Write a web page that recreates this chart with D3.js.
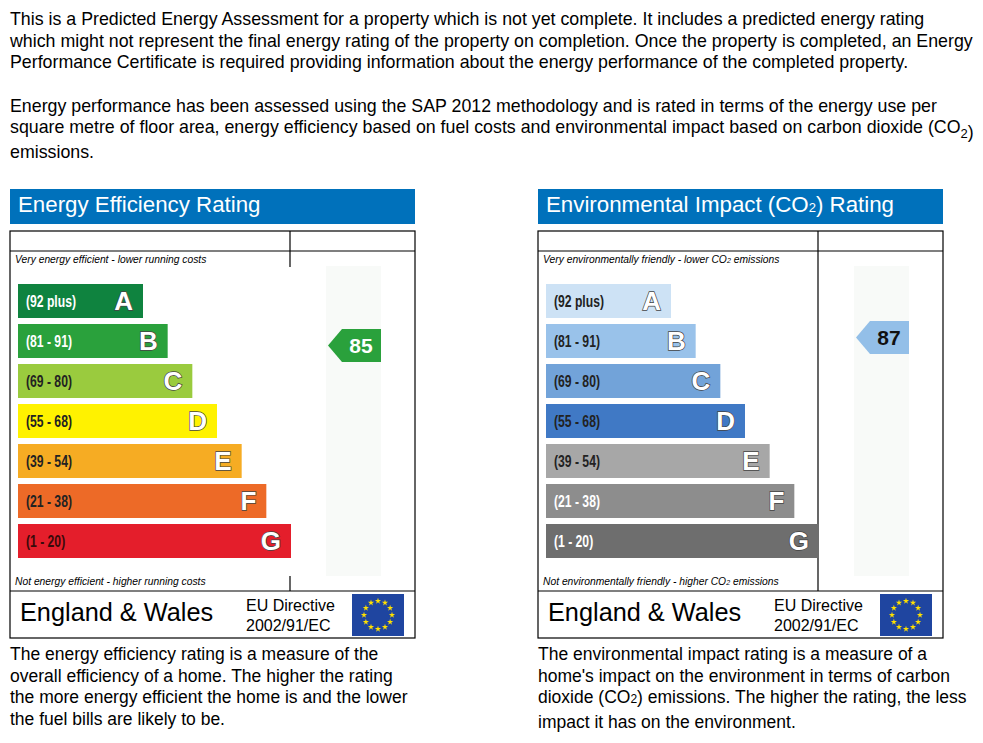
<!DOCTYPE html>
<html>
<head>
<meta charset="utf-8">
<script src="https://cdn.jsdelivr.net/npm/d3@7"></script>
<style>
  body { margin: 0; background: #fff; }
  svg { display: block; font-family: "Liberation Sans", Arial, sans-serif; }
</style>
</head>
<body>
<div id="chart"></div>
<script>
// text blocks
const introLines = [
  'This is a Predicted Energy Assessment for a property which is not yet complete. It includes a predicted energy rating',
  'which might not represent the final energy rating of the property on completion. Once the property is completed, an Energy',
  'Performance Certificate is required providing information about the energy performance of the completed property.',
  'Energy performance has been assessed using the SAP 2012 methodology and is rated in terms of the energy use per',
  'square metre of floor area, energy efficiency based on fuel costs and environmental impact based on carbon dioxide (CO₂)',
  'emissions.'
];
const introBaselines = [25, 47, 68, 112, 133, 158];

const energyNotes = ['The energy efficiency rating is a measure of the',
  'overall efficiency of a home. The higher the rating',
  'the more energy efficient the home is and the lower',
  'the fuel bills are likely to be.'];
const co2Notes = ['The environmental impact rating is a measure of a',
  'home\'s impact on the environment in terms of carbon',
  'dioxide (CO₂) emissions. The higher the rating, the less',
  'impact it has on the environment.'];

// rating bands
const bandLetters = ['A', 'B', 'C', 'D', 'E', 'F', 'G'];
const bandRanges = ['(92 plus)', '(81 - 91)', '(69 - 80)', '(55 - 68)', '(39 - 54)', '(21 - 38)', '(1 - 20)'];
const bandMin = [92, 81, 69, 55, 39, 21, 1];
const bandMax = [100, 91, 80, 68, 54, 38, 20];

const energyColours = ['#0f833f', '#2aa13c', '#9acb3e', '#fff200', '#f6ac23', '#ed6a27', '#e41e2b'];
const energyLabelColours = ['#fff', '#fff', '#222', '#222', '#222', '#222', '#3a0a0a'];
const co2Colours = ['#cde2f5', '#99c2ea', '#72a3d9', '#4079c5', '#a7a7a7', '#8d8d8d', '#6e6e6e'];
const co2LabelColours = ['#222', '#222', '#222', '#222', '#222', '#fff', '#fff'];

const energyRating = 85;
const co2Rating = 87;

const W = 983, H = 743;
const svg = d3.select('#chart').append('svg').attr('width', W).attr('height', H);

// write a string, turning "₂" into a small lowered 2
const richText = (sel, str, subSize, drop) => {
  const parts = str.split('₂');
  parts.forEach((p, i) => {
    sel.append('tspan').text(p);
    if (i < parts.length - 1) {
      sel.append('tspan').attr('font-size', subSize).attr('dy', drop).text('2');
      sel.append('tspan').attr('dy', -drop).text('');
    }
  });
};

svg.append('g').selectAll('text').data(introLines).join('text')
  .attr('x', 10).attr('y', (d, i) => introBaselines[i])
  .attr('font-size', 17.8).attr('fill', '#000')
  .each(function(d) { richText(d3.select(this), d, 13, 5); });

const y = d3.scaleBand().domain(bandLetters).range([284, 558]).paddingInner(0.15);
const barW = d3.scaleLinear().domain([0, 6]).range([125, 273]);

const drawPanel = (cfg) => {
  const g = svg.append('g').attr('transform', `translate(${cfg.x},0)`);
  const fw = 405;

  // header
  g.append('rect').attr('x', 0).attr('y', 189).attr('width', fw).attr('height', 35).attr('fill', '#0071bb');
  g.append('text').attr('x', 8).attr('y', 212).attr('font-size', 22.3).attr('fill', '#fff')
    .each(function() { richText(d3.select(this), cfg.title, 13, 0); });

  // score column shading
  g.append('rect').attr('x', 316).attr('y', 266).attr('width', 55).attr('height', 310).attr('fill', '#f8faf8');

  // frame
  const line = (x1, y1, x2, y2) => g.append('line').attr('x1', x1).attr('y1', y1).attr('x2', x2).attr('y2', y2)
    .attr('stroke', '#000').attr('stroke-width', 1.2);
  g.append('rect').attr('x', 0).attr('y', 231).attr('width', fw).attr('height', 407)
    .attr('fill', 'none').attr('stroke', '#000').attr('stroke-width', 1.2);
  line(0, 251, fw, 251);
  line(0, 591, fw, 591);
  if (cfg.fullDivider) line(280, 231, 280, 591);
  else { line(280, 231, 280, 267); line(280, 576, 280, 591); }

  // notes
  g.append('text').attr('x', 5).attr('y', 263).attr('font-size', 10.3).attr('font-style', 'italic')
    .each(function() { richText(d3.select(this), cfg.topNote, 7, 0); });
  g.append('text').attr('x', 5).attr('y', 585).attr('font-size', 10.3).attr('font-style', 'italic')
    .each(function() { richText(d3.select(this), cfg.bottomNote, 7, 0); });

  // bands
  const bands = g.append('g').selectAll('g').data(bandLetters).join('g')
    .attr('transform', d => `translate(8,${y(d)})`);
  bands.append('rect').attr('width', (d, i) => barW(i)).attr('height', y.bandwidth())
    .attr('fill', (d, i) => cfg.colours[i]);
  bands.append('text').attr('transform', 'translate(8,22.5) scale(0.76,1)')
    .attr('font-weight', 'bold').attr('font-size', 16)
    .attr('fill', (d, i) => cfg.labelColours[i]).text((d, i) => bandRanges[i]);
  bands.append('text').attr('x', (d, i) => barW(i) - 10).attr('y', 26)
    .attr('text-anchor', 'end').attr('font-weight', 'bold').attr('font-size', 26)
    .attr('fill', '#fff').attr('stroke', '#444').attr('stroke-width', 1.4)
    .attr('paint-order', 'stroke').text(d => d);

  // rating arrow
  const bi = bandMin.findIndex(m => cfg.rating >= m);
  const within = d3.scaleLinear().domain([bandMax[bi], bandMin[bi]])
    .range([y(bandLetters[bi]), y(bandLetters[bi]) + y.step()]);
  const cy = within(cfg.rating) - 2.5;
  const ax = 318, h = 16.5;
  g.append('path')
    .attr('d', `M${ax},${cy} L${ax + 14},${cy - h} L${ax + 53},${cy - h} L${ax + 53},${cy + h} L${ax + 14},${cy + h} Z`)
    .attr('fill', cfg.arrowColour);
  g.append('text').attr('x', ax + 33).attr('y', cy + 7.5).attr('text-anchor', 'middle')
    .attr('font-weight', 'bold').attr('font-size', 21).attr('fill', cfg.arrowText).text(cfg.rating);

  // footer
  g.append('text').attr('x', 10).attr('y', 621).attr('font-size', 25.3).text('England & Wales');
  g.append('text').attr('x', 236).attr('y', 611).attr('font-size', 16).text('EU Directive');
  g.append('text').attr('x', 236).attr('y', 631).attr('font-size', 16).text('2002/91/EC');
  g.append('rect').attr('x', 342).attr('y', 594).attr('width', 52).attr('height', 42).attr('fill', '#1f45a0');
  const stars = d3.range(12);
  g.append('g').selectAll('path').data(stars).join('path')
    .attr('d', d3.symbol(d3.symbolStar, 12))
    .attr('transform', d => {
      const a = d / 12 * 2 * Math.PI;
      return `translate(${368 + 14 * Math.sin(a)},${615 - 14 * Math.cos(a)})`;
    })
    .attr('fill', '#ffe000');

  // description
  g.append('g').selectAll('text').data(cfg.notes).join('text')
    .attr('x', 0).attr('y', (d, i) => cfg.noteBaselines[i]).attr('font-size', 17.5)
    .each(function(d) { richText(d3.select(this), d, 12, 0); });
};

drawPanel({
  x: 10, title: 'Energy Efficiency Rating',
  topNote: 'Very energy efficient - lower running costs',
  bottomNote: 'Not energy efficient - higher running costs',
  colours: energyColours, labelColours: energyLabelColours,
  rating: energyRating, arrowColour: '#2aa13c', arrowText: '#fff',
  fullDivider: false, notes: energyNotes, noteBaselines: [660, 682, 703, 725]
});
drawPanel({
  x: 538, title: 'Environmental Impact (CO₂) Rating',
  topNote: 'Very environmentally friendly - lower CO₂ emissions',
  bottomNote: 'Not environmentally friendly - higher CO₂ emissions',
  colours: co2Colours, labelColours: co2LabelColours,
  rating: co2Rating, arrowColour: '#93bfe8', arrowText: '#111',
  fullDivider: true, notes: co2Notes, noteBaselines: [660, 682, 703, 728]
});
</script>
</body>
</html>
